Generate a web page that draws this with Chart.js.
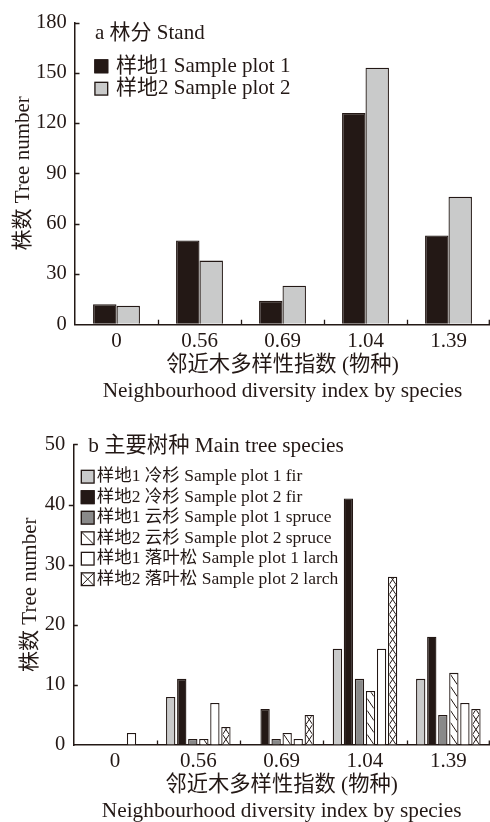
<!DOCTYPE html>
<html>
<head>
<meta charset="utf-8">
<script src="https://cdn.jsdelivr.net/npm/chart.js@4.4.1/dist/chart.umd.min.js"></script>
<style>
  html, body { margin: 0; padding: 0; background: #ffffff; }
  .panel { position: relative; width: 490px; height: 411px; }
  canvas { display: block; }
</style>
</head>
<body>
<div class="panel"><canvas id="standChart" width="490" height="411"></canvas></div>
<div class="panel"><canvas id="speciesChart" width="490" height="411"></canvas></div>
<script>
// Neighbourhood diversity index classes (by species)
const categories = ['0', '0.56', '0.69', '1.04', '1.39'];

// (a) whole stand, tree counts per class
const standPlot1 = [12, 50, 14, 126, 53];
const standPlot2 = [11, 38, 23, 153, 76];
const standTicks = [0, 30, 60, 90, 120, 150, 180];

// (b) main tree species, tree counts per class
const firPlot1    = [0, 8, 0, 16, 11];
const firPlot2    = [0, 11, 6, 41, 18];
const sprucePlot1 = [0, 1, 1, 11, 5];
const sprucePlot2 = [0, 1, 2, 9, 12];
const larchPlot1  = [2, 7, 1, 16, 7];
const larchPlot2  = [0, 3, 5, 28, 6];
const speciesTicks = [0, 10, 20, 30, 40, 50];

const xTitle = ['邻近木多样性指数 (物种)', 'Neighbourhood diversity index by species'];
const yTitle = '株数 Tree number';

const INK = '#231815';
const FAMILY = "'Liberation Serif', 'Noto Sans CJK SC', serif";
Chart.defaults.font.family = FAMILY;
Chart.defaults.color = INK;

// hatching inside a rectangle, anchored at its bottom edge
function drawHatch(ctx, kind, x0, y0, w, h, inLegend) {
  ctx.save();
  ctx.beginPath();
  ctx.rect(x0, y0, w, h);
  ctx.clip();
  ctx.strokeStyle = INK;
  ctx.lineWidth = 1;
  ctx.beginPath();
  const yb = y0 + h;
  if (kind === 'back') {
    const step = inLegend ? h : 12;
    const rise = inLegend ? h : 10;
    for (let yy = yb; yy > y0 - rise; yy -= step) {
      ctx.moveTo(x0, yy - rise);
      ctx.lineTo(x0 + w, yy);
    }
  } else {
    const step = inLegend ? h : 10;
    for (let yy = yb; yy > y0 - step; yy -= step) {
      ctx.moveTo(x0, yy);
      ctx.lineTo(x0 + w, yy - step);
      ctx.moveTo(x0 + w, yy);
      ctx.lineTo(x0, yy - step);
    }
  }
  ctx.stroke();
  ctx.restore();
}

const barHatch = {
  id: 'barHatch',
  afterDatasetsDraw(chart) {
    const ctx = chart.ctx;
    chart.data.datasets.forEach((ds, i) => {
      if (!ds.hatch) return;
      chart.getDatasetMeta(i).data.forEach(bar => {
        const p = bar.getProps(['x', 'y', 'base', 'width'], true);
        const h = p.base - p.y;
        if (h < 1) return;
        const bw = ds.borderWidth;
        drawHatch(ctx, ds.hatch, p.x - p.width / 2 + bw, p.y + bw, p.width - 2 * bw, h - bw, false);
      });
    });
  }
};

// short inward tick marks on both axes
const axisTicks = {
  id: 'axisTicks',
  afterDraw(chart, args, opts) {
    const { ctx, chartArea: a, scales: { x, y } } = chart;
    const len = 4.5;
    ctx.save();
    ctx.strokeStyle = INK;
    ctx.lineWidth = 1.3;
    ctx.beginPath();
    y.ticks.forEach((t, i) => {
      if (t.value === 0) return;
      const py = Math.round(y.getPixelForTick(i)) + 0.5;
      const out = (opts.outward || []).includes(t.value);
      ctx.moveTo(a.left, py);
      ctx.lineTo(out ? a.left - len : a.left + len, py);
    });
    const n = x.ticks.length;
    for (let i = 1; i <= n; i++) {
      const px = i < n ? Math.round((x.getPixelForTick(i - 1) + x.getPixelForTick(i)) / 2) + 0.5 : a.right - 0.7;
      ctx.moveTo(px, a.bottom);
      ctx.lineTo(px, a.bottom - len);
    }
    ctx.stroke();
    ctx.restore();
  }
};

// panel title and key drawn inside the plot area
const panelKey = {
  id: 'panelKey',
  afterDraw(chart, args, o) {
    const ctx = chart.ctx;
    ctx.save();
    ctx.textBaseline = 'middle';
    ctx.textAlign = 'left';
    ctx.fillStyle = INK;
    ctx.font = o.titleFont;
    ctx.fillText(o.title, o.titleX, o.titleY);
    ctx.font = o.font;
    chart.data.datasets.forEach((ds, i) => {
      const cy = o.rowY + i * o.rowGap;
      const bx = o.boxX, by = cy - o.box / 2;
      ctx.fillStyle = ds.backgroundColor;
      ctx.fillRect(bx, by, o.box, o.box);
      if (ds.hatch) drawHatch(ctx, ds.hatch, bx, by, o.box, o.box, true);
      ctx.strokeStyle = INK;
      ctx.lineWidth = 1.3;
      ctx.strokeRect(bx + 0.65, by + 0.65, o.box - 1.3, o.box - 1.3);
      ctx.fillStyle = INK;
      ctx.fillText(ds.label, o.textX, cy);
    });
    ctx.restore();
  }
};

function makeScales(cfg) {
  return {
    x: {
      grid: { drawOnChartArea: false, drawTicks: false },
      border: { display: true, color: INK, width: 1.5 },
      ticks: { font: { size: 21 }, padding: cfg.xTickPad, color: INK },
      title: {
        display: true, text: xTitle, color: INK,
        font: { size: 21.3, lineHeight: 1.25 },
        padding: { top: 0, bottom: cfg.xTitlePad }
      },
      afterFit: s => { s.height = cfg.xHeight; }
    },
    y: {
      min: 0, max: cfg.max,
      grid: { drawOnChartArea: false, drawTicks: false },
      border: { display: true, color: INK, width: 1.5 },
      ticks: { font: { size: 20.5 }, padding: cfg.yTickPad, color: INK },
      afterBuildTicks: s => { s.ticks = cfg.ticks.map(v => ({ value: v })); },
      title: {
        display: true, text: yTitle, color: INK,
        font: { size: 21 },
        padding: { top: cfg.yTitlePad, bottom: 0 }
      },
      afterFit: s => { s.width = cfg.yWidth; }
    }
  };
}

const common = {
  responsive: false,
  animation: false,
  events: [],
  plugins: { legend: { display: false }, tooltip: { enabled: false } }
};

new Chart(document.getElementById('standChart'), {
  type: 'bar',
  data: {
    labels: categories,
    datasets: [
      { label: '样地1 Sample plot 1', data: standPlot1, backgroundColor: INK },
      { label: '样地2 Sample plot 2', data: standPlot2, backgroundColor: '#c9caca' }
    ].map(d => Object.assign(d, {
      borderColor: INK, borderWidth: 1.3, categoryPercentage: 0.565, barPercentage: 1.0
    }))
  },
  options: Object.assign({}, common, {
    layout: { padding: { top: 22.5, left: 0, right: 0, bottom: 0 } },
    scales: makeScales({
      max: 180, ticks: standTicks, xTickPad: 5, xTitlePad: 6, xHeight: 86.7,
      yTickPad: 8.3, yTitlePad: 10.9, yWidth: 75
    }),
    plugins: Object.assign({}, common.plugins, {
      axisTicks: { outward: [] },
      panelKey: {
        title: 'a 林分 Stand', titleX: 95, titleY: 33, titleFont: '21px ' + FAMILY,
        font: '21px ' + FAMILY, box: 14, boxX: 94.3, rowY: 66.3, rowGap: 22.4, textX: 116
      }
    })
  }),
  plugins: [barHatch, axisTicks, panelKey]
});

new Chart(document.getElementById('speciesChart'), {
  type: 'bar',
  data: {
    labels: categories,
    datasets: [
      { label: '样地1 冷杉 Sample plot 1 fir', data: firPlot1, backgroundColor: '#c9caca' },
      { label: '样地2 冷杉 Sample plot 2 fir', data: firPlot2, backgroundColor: INK },
      { label: '样地1 云杉 Sample plot 1 spruce', data: sprucePlot1, backgroundColor: '#898989' },
      { label: '样地2 云杉 Sample plot 2 spruce', data: sprucePlot2, backgroundColor: '#ffffff', hatch: 'back' },
      { label: '样地1 落叶松 Sample plot 1 larch', data: larchPlot1, backgroundColor: '#ffffff' },
      { label: '样地2 落叶松 Sample plot 2 larch', data: larchPlot2, backgroundColor: '#ffffff', hatch: 'cross' }
    ].map(d => Object.assign(d, {
      borderColor: INK, borderWidth: 1.3, categoryPercentage: 0.795, barPercentage: 0.845
    }))
  },
  options: Object.assign({}, common, {
    layout: { padding: { top: 33.4, left: 0, right: 0, bottom: 0 } },
    scales: makeScales({
      max: 50, ticks: speciesTicks, xTickPad: 4.3, xTitlePad: -3, xHeight: 77,
      yTickPad: 8, yTitlePad: 17.9, yWidth: 73.3
    }),
    plugins: Object.assign({}, common.plugins, {
      axisTicks: { outward: [30, 40] },
      panelKey: {
        title: 'b 主要树种 Main tree species', titleX: 88.3, titleY: 35, titleFont: '21.3px ' + FAMILY,
        font: '17.5px ' + FAMILY, box: 14, boxX: 80.7, rowY: 65.7, rowGap: 20.5, textX: 96.7
      }
    })
  }),
  plugins: [barHatch, axisTicks, panelKey]
});
</script>
</body>
</html>
